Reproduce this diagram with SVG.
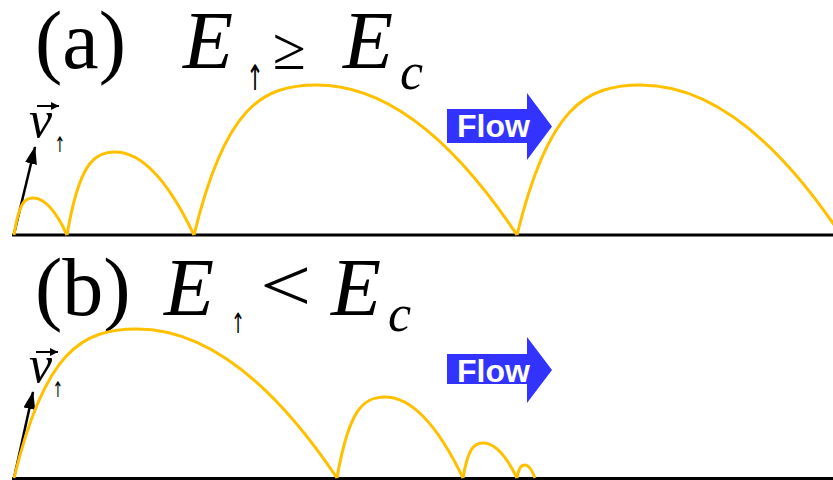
<svg xmlns="http://www.w3.org/2000/svg" width="833" height="480" viewBox="0 0 833 480">
<defs>
<style>
.serif{font-family:"Liberation Serif","Times New Roman",serif;fill:#000}
.it{font-style:italic}
.arr{font-family:"DejaVu Sans",sans-serif;fill:#000}
.ground{stroke:#000;stroke-width:3;fill:none}
.hop{stroke:#FFC000;stroke-width:3;fill:none;stroke-linejoin:round}
.flow{fill:#3333FF}
.flowtxt{font-family:"Liberation Sans",Arial,sans-serif;font-weight:bold;font-size:32px;fill:#fff}
.vec{stroke:#000;stroke-width:2.5;fill:none}
.over{stroke:#000;stroke-width:2;fill:none}
</style>
<marker id="vhead" viewBox="0 0 18 12" refX="17" refY="6" markerWidth="18" markerHeight="12" markerUnits="userSpaceOnUse" orient="auto">
<path d="M0,0 L18,6 L0,12 Z" fill="#000"/>
</marker>
<marker id="ohead" viewBox="0 0 8 8" refX="8" refY="4" markerWidth="8" markerHeight="8" markerUnits="userSpaceOnUse" orient="auto">
<path d="M0,0 L8,4 L0,8 Z" fill="#000"/>
</marker>
</defs>
<rect width="833" height="480" fill="#fff"/>

<g id="panel-a">
<g id="title-a">
<text class="serif" x="35" y="68" font-size="82">(a)</text>
<text class="serif it" x="183" y="68" font-size="82">E</text>
<text class="arr" transform="translate(246.2,90) scale(0.6,1)" font-size="35">↑</text>
<text class="serif" x="273" y="69" font-size="60">≥</text>
<text class="serif it" x="343" y="68" font-size="82">E</text>
<text class="serif it" x="400" y="89" font-size="52">c</text>
</g>
<g id="velocity-a">
<text class="serif it" x="29" y="137" font-size="52">v</text>
<path class="over" d="M37,106 H59" marker-end="url(#ohead)"/>
<text class="arr" transform="translate(54.6,152) scale(0.6,1)" font-size="21.5">↑</text>
<path class="vec" d="M14,234 L35,147" marker-end="url(#vhead)"/>
</g>
<g id="ground-a"><path class="ground" d="M12,235 H833"/></g>
<g id="hops-a">
<path class="hop" d="M14,235 C18.8,203.5 24.5,198 33,198 Q50,198 67,235"/>
<path class="hop" d="M67,235 C79,164.5 93.4,152 115,152 Q154.5,152 194,235"/>
<path class="hop" d="M194,235 C224.8,107.5 261.7,85 317,85 Q417,85 517,235"/>
<path class="hop" d="M517,235 C548,107.5 585,85 641,85 Q741,85 841,235"/>
</g>
<g id="flow-a">
<path class="flow" d="M447,109 H527 V93 L552,126.5 L527,160 V143 H447 Z"/>
<text class="flowtxt" x="457" y="137">Flow</text>
</g>
</g>

<g id="panel-b">
<g id="title-b">
<text class="serif" x="35" y="315" font-size="82">(b)</text>
<text class="serif it" x="164" y="315" font-size="82">E</text>
<text class="arr" transform="translate(231,333) scale(0.6,1)" font-size="28">↑</text>
<text class="serif" transform="translate(260,311) scale(1.2,1)" font-size="76">&lt;</text>
<text class="serif it" x="331" y="315" font-size="82">E</text>
<text class="serif it" x="388" y="331" font-size="52">c</text>
</g>
<g id="velocity-b">
<text class="serif it" x="29" y="382" font-size="52">v</text>
<path class="over" d="M36,352 H58" marker-end="url(#ohead)"/>
<text class="arr" transform="translate(52.6,397) scale(0.6,1)" font-size="21.5">↑</text>
<path class="vec" d="M14,478 L33,392" marker-end="url(#vhead)"/>
</g>
<g id="ground-b"><path class="ground" d="M12,478.5 H833"/></g>
<g id="hops-b">
<path class="hop" d="M14,478 C44.8,351.4 81.7,329 137,329 Q237,329 337,478"/>
<path class="hop" d="M337,478 C349,409.2 363.4,397 385,397 Q424,397 463,478"/>
<path class="hop" d="M463,478 C468,448.3 474,443 483,443 Q500,443 517,478"/>
<path class="hop" d="M517,478 C519,467 521.4,465 525,465 Q530,465 535,478"/>
</g>
<g id="flow-b">
<path class="flow" d="M447,354 H527 V337 L552,370 L527,403 V384 H447 Z"/>
<text class="flowtxt" x="457" y="382">Flow</text>
</g>
</g>
</svg>
